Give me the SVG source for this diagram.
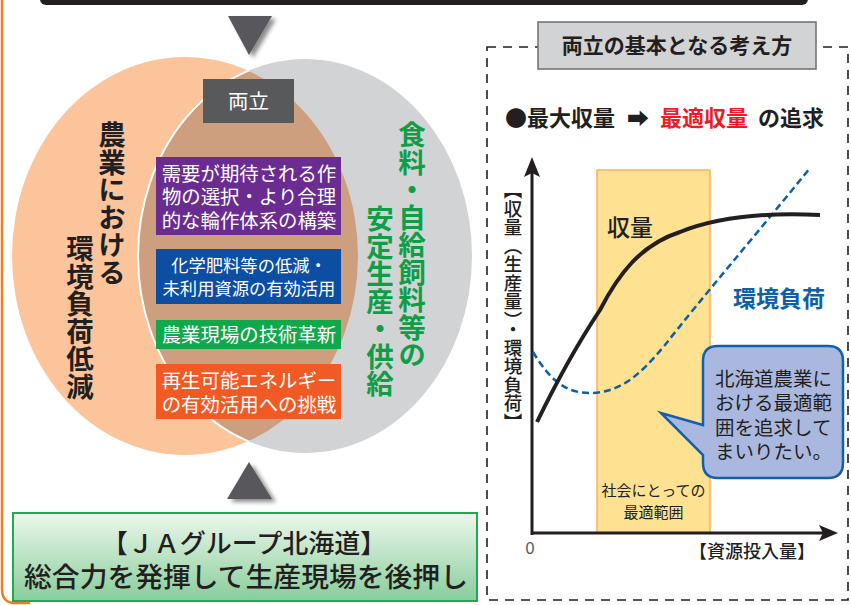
<svg xmlns="http://www.w3.org/2000/svg" width="851" height="605" viewBox="0 0 851 605">
<style>
text{font-family:"Noto Sans CJK JP","Noto Sans",sans-serif;}
.w{fill:#ffffff;}
.d{fill:#231f20;}
.b{font-weight:700;}
.vt{writing-mode:vertical-rl;font-weight:700;font-size:27.5px;}
.box{font-size:19.4px;fill:#ffffff;text-anchor:middle;}
.box2{font-size:17.3px;fill:#ffffff;text-anchor:middle;}
</style>
<defs>
<clipPath id="clipL"><ellipse cx="185" cy="256" rx="173" ry="199"/></clipPath>
<clipPath id="clipR"><ellipse cx="305" cy="256" rx="167" ry="197"/></clipPath>
<filter id="sh" x="-30%" y="-30%" width="160%" height="160%">
<feDropShadow dx="4" dy="3" stdDeviation="2" flood-color="#000" flood-opacity="0.45"/>
</filter>
<linearGradient id="gg" x1="0" y1="0" x2="0" y2="1">
<stop offset="0" stop-color="#edf7ec"/>
<stop offset="1" stop-color="#88cd9b"/>
</linearGradient>
</defs>

<!-- frame decorations -->
<path d="M2,0 V589 Q2,603 15,603 H30" fill="none" stroke="#f47b20" stroke-width="2.5"/>
<rect x="40" y="-12" width="768" height="17" rx="6" fill="#231f20"/>

<!-- Venn -->
<g id="venn">
<ellipse cx="185" cy="256" rx="173" ry="199" fill="#fbc49b"/>
<ellipse cx="305" cy="256" rx="167" ry="197" fill="#d1d3d4"/>
<ellipse cx="185" cy="256" rx="173" ry="199" fill="#cd9f7e" clip-path="url(#clipR)"/>
<ellipse cx="305" cy="256" rx="167" ry="197" fill="none" stroke="#ffffff" stroke-width="2" clip-path="url(#clipL)"/>
</g>

<g id="arrows">
<polygon points="228,16 272,16 249,55" fill="#58595b" filter="url(#sh)"/>
<polygon points="249,462 272,499 227,499" fill="#58595b" filter="url(#sh)"/>
</g>

<g id="left-label">
<text class="vt d" x="112" y="121">農業における</text>
<text class="vt d" x="80" y="235">環境負荷低減</text>
</g>
<g id="right-label">
<text class="vt" fill="#0f9d48" x="412" y="121">食料・自給飼料等の</text>
<text class="vt" fill="#0f9d48" x="380" y="205">安定生産・供給</text>
</g>

<g id="ryoritsu">
<rect x="203" y="79" width="91" height="44" fill="#58595b"/>
<text class="w" x="248.5" y="109" font-size="20.5" text-anchor="middle">両立</text>
</g>

<g id="box-purple">
<rect x="156" y="157" width="185" height="78" fill="#6b2c91"/>
<text class="box" x="249" y="180.5">需要が期待される作<tspan x="249" dy="23.5">物の選択・より合理</tspan><tspan x="249" dy="23.5">的な輪作体系の構築</tspan></text>
</g>
<g id="box-blue">
<rect x="156" y="249" width="185" height="55" fill="#0b4ea2"/>
<text class="box2" x="249" y="271.5">化学肥料等の低減・<tspan x="249" dy="23">未利用資源の有効活用</tspan></text>
</g>
<g id="box-green">
<rect x="156" y="320" width="185" height="29" fill="#10a84a"/>
<text class="box" x="249" y="342">農業現場の技術革新</text>
</g>
<g id="box-orange">
<rect x="156" y="364" width="185" height="55" fill="#f15a24"/>
<text class="box" x="249" y="388">再生可能エネルギー<tspan x="249" dy="24">の有効活用への挑戦</tspan></text>
</g>

<g id="ja-box">
<rect x="13" y="513" width="464" height="88" fill="url(#gg)" stroke="#22a94f" stroke-width="2"/>
<text class="d" x="244" y="553" font-size="26" text-anchor="middle" font-weight="500">【ＪＡグループ北海道】<tspan x="246" dy="34" font-size="27.8">総合力を発揮して生産現場を後押し</tspan></text>
</g>

<!-- right panel -->
<g id="panel">
<rect x="487" y="47" width="361" height="553" fill="none" stroke="#231f20" stroke-width="1.6" stroke-dasharray="9 7"/>
<rect x="538" y="22" width="278" height="47" fill="#d1d3d4" stroke="#6d6e71" stroke-width="1.5"/>
<text class="d b" x="677" y="53" font-size="21" text-anchor="middle">両立の基本となる考え方</text>
<text class="d b" x="505" y="126" font-size="22">●最大収量</text>
<text class="d b" x="627" y="126" font-size="22">➡</text>
<text class="b" fill="#ed1c24" x="660" y="126" font-size="22">最適収量</text>
<text class="d b" x="758" y="126" font-size="22">の追求</text>
</g>

<g id="chart">
<rect x="597" y="170" width="113" height="363" fill="#fee191" stroke="#f9b25a" stroke-width="1.5"/>
<text class="d" x="607" y="236" font-size="23" font-weight="500">収量</text>
<text class="d" x="653.5" y="496" font-size="15" text-anchor="middle">社会にとっての<tspan x="653.5" dy="22">最適範囲</tspan></text>
<text fill="#0d5fab" class="b" x="733" y="307" font-size="23">環境負荷</text>
<text class="vt d" style="font-weight:500;font-size:18.5px" x="513" y="181">【収量（生産量）・環境負荷】</text>
<text fill="#58595b" x="530" y="554" font-size="17" text-anchor="middle">0</text>
<text class="d" x="752" y="558" font-size="18" text-anchor="middle" font-weight="500">【資源投入量】</text>
</g>

<g id="connectors">
<path d="M532,535 V172" stroke="#231f20" stroke-width="3" fill="none"/>
<polygon points="532,157 540,177 532,173 524,177" fill="#231f20"/>
<path d="M531,533 H824" stroke="#231f20" stroke-width="3" fill="none"/>
<polygon points="838,533 819,541 823,533 819,525" fill="#231f20"/>
<path d="M533,352 C550,380 565,393 590,393 C620,393 640,375 665,345 C700,300 760,230 810,168" fill="none" stroke="#0d5fab" stroke-width="2.5" stroke-dasharray="7 4"/>
<path d="M537,422 C555,385 580,340 600,310 C618,275 640,245 680,232 C715,218 760,212 820,215" fill="none" stroke="#231f20" stroke-width="4"/>
</g>

<g id="bubble">
<path d="M718,346 H828 Q843,346 843,361 V463 Q843,478 828,478 H718 Q703,478 703,463 V455 L661,413 L703,425 V361 Q703,346 718,346 Z" fill="#aab8e0" stroke="#1060ae" stroke-width="2.5"/>
<text class="d" x="715" y="386" font-size="19.5">北海道農業に<tspan x="715" dy="24">おける最適範</tspan><tspan x="715" dy="24.5">囲を追求して</tspan><tspan x="715" dy="24">まいりたい。</tspan></text>
</g>
</svg>
